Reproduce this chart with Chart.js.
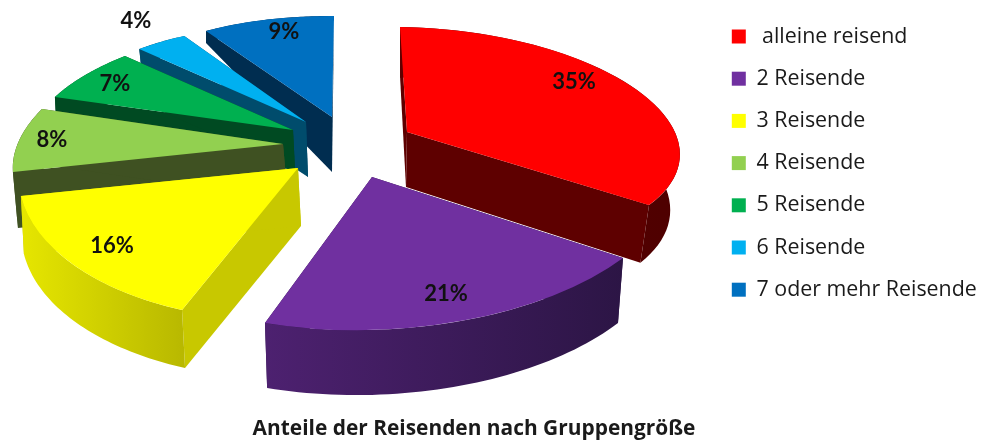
<!DOCTYPE html>
<html>
<head>
<meta charset="utf-8">
<style>html,body{margin:0;padding:0;background:#fff}canvas{display:block}</style>
<script src="https://cdn.jsdelivr.net/npm/chart.js@4"></script>
</head>
<body>
<canvas id="c" width="981" height="440"></canvas>
<script>
// Data
const categories = [' alleine reisend','2 Reisende','3 Reisende','4 Reisende','5 Reisende','6 Reisende','7 oder mehr Reisende'];
const shares = [35,21,16,8,7,4,9];
const chartTitle = 'Anteile der Reisenden nach Gruppengröße';

// Styles
const faceColors = ['#ff0000','#7030a0','#ffff00','#92d050','#00b050','#00b0f0','#0070c0'];
const cutColors  = ['#5e0000','#2e1648','#c8c800','#3f5122','#004a22','#004c6c','#002d50'];
const wallFrom   = ['#5e0000','#4d2170','#e6e600','#3f5122','#004a22','#004c6c','#002d50'];
const wallTo     = ['#4e0000','#2c1545','#b8b800','#3f5122','#004a22','#004c6c','#002d50'];

// Perspective view of each exploded slice: unit-circle axes and projected centre
const faceProjection = [
  [247,3,31,110.6,431,137.6],
  [305.9,-10.8,6,152.7,372,177],
  [279.4,0.7,-14.1,153,298,168],
  [267,-4.3,-41.7,126.6,283,144],
  [260.8,-0.7,-32.2,108.8,293,130],
  [231,10.9,-2.4,94.9,306,122],
  [238.3,1.4,-2,101,332,117]
];
// Perspective moves the visible tip of a slice away from its projected centre
const tipShift = [[-24,-5.6],[0,0],[0,0],[0,0],[0,0],[0,0],[0,0]];
// Extrusion of each slice: drop x, drop y, scale x, scale y
const wallProjection = [
  [-1,55,0.965,1.04],
  [0,65,0.98,1],
  [3,58,1,1],
  [5,56,1,1],
  [2,40,1,1],
  [2,55,1,1.5],
  [0,55,1,1.5]
];
const paintOrder = [0,6,5,4,3,2,1];
const labelSpots = [[574,82],[446,294],[112,246],[52,140],[115,84],[136,21],[284,32]];

const pie3d = {
  id:'pie3d',
  beforeDatasetsDraw(chart){
    const ctx = chart.ctx;
    const arcs = chart.getDatasetMeta(0).data;
    paintOrder.forEach(i=>{
      const arc = arcs[i];
      const {x,y,startAngle,endAngle,outerRadius:R} = arc.getProps(['x','y','startAngle','endAngle','outerRadius'],true);
      const [ax,ay,bx,by,ex,ey] = faceProjection[i];
      const [dx,dy,sx,sy] = wallProjection[i];
      const rel = a=>[ax*Math.cos(a)+bx*Math.sin(a), ay*Math.cos(a)+by*Math.sin(a)];
      const top = a=>{const p=rel(a);return [ex+p[0],ey+p[1]];};
      const bot = a=>{const p=rel(a);return [ex+dx+sx*p[0],ey+dy+sy*p[1]];};
      const poly = (pts,fill)=>{
        ctx.beginPath();
        pts.forEach((p,k)=>k?ctx.lineTo(p[0],p[1]):ctx.moveTo(p[0],p[1]));
        ctx.closePath();
        ctx.fillStyle=fill;ctx.fill();
      };
      ctx.save();
      const tip=[ex+tipShift[i][0],ey+tipShift[i][1]], tipB=[tip[0]+dx,tip[1]+dy];
      poly([tip,top(startAngle),bot(startAngle),tipB],cutColors[i]);
      poly([tip,top(endAngle),bot(endAngle),tipB],cutColors[i]);
      const n=48, upper=[], lower=[];
      for(let k=0;k<=n;k++){
        const a=startAngle+(endAngle-startAngle)*k/n;
        upper.push(top(a)); lower.unshift(bot(a));
      }
      const all=upper.concat(lower), xs=all.map(p=>p[0]);
      const g=ctx.createLinearGradient(Math.min(...xs),0,Math.max(...xs),0);
      g.addColorStop(0,wallFrom[i]); g.addColorStop(1,wallTo[i]);
      poly(all,g);
      if(tipShift[i][0]||tipShift[i][1]) poly([tip,top(startAngle),top(endAngle)],faceColors[i]);
      ctx.transform(ax/R,ay/R,bx/R,by/R,ex,ey);
      ctx.translate(-x,-y);
      arc.draw(ctx);
      ctx.restore();
    });
    ctx.save();
    ctx.font='bold 22px Lato';
    ctx.fillStyle='#111';
    ctx.textAlign='center';
    ctx.textBaseline='middle';
    shares.forEach((v,i)=>ctx.fillText(v+'%',labelSpots[i][0],labelSpots[i][1]));
    ctx.restore();
    return false;
  },
  afterLayout(chart){
    chart.titleBlock.right -= 33;
    chart.titleBlock.top += 4;
    chart.legend.left = 711;
    chart.legend.right = 981;
  }
};

new Chart(document.getElementById('c'),{
  type:'pie',
  data:{labels:categories,datasets:[{data:shares,backgroundColor:faceColors,borderWidth:0}]},
  plugins:[pie3d],
  options:{
    responsive:false,
    animation:false,
    layout:{padding:{top:5,right:0,bottom:0,left:0}},
    plugins:{
      tooltip:{enabled:false},
      legend:{
        position:'right',
        align:'start',
        labels:{boxWidth:14,boxHeight:14,padding:20.8,color:'#1a1a1a',font:{family:'Open Sans',size:21.4}}
      },
      title:{
        display:true,
        text:chartTitle,
        position:'bottom',
        color:'#1a1a1a',
        padding:{top:0,bottom:2},
        font:{family:'Open Sans',size:20.9,weight:'bold'}
      }
    }
  }
});
</script>
</body>
</html>
